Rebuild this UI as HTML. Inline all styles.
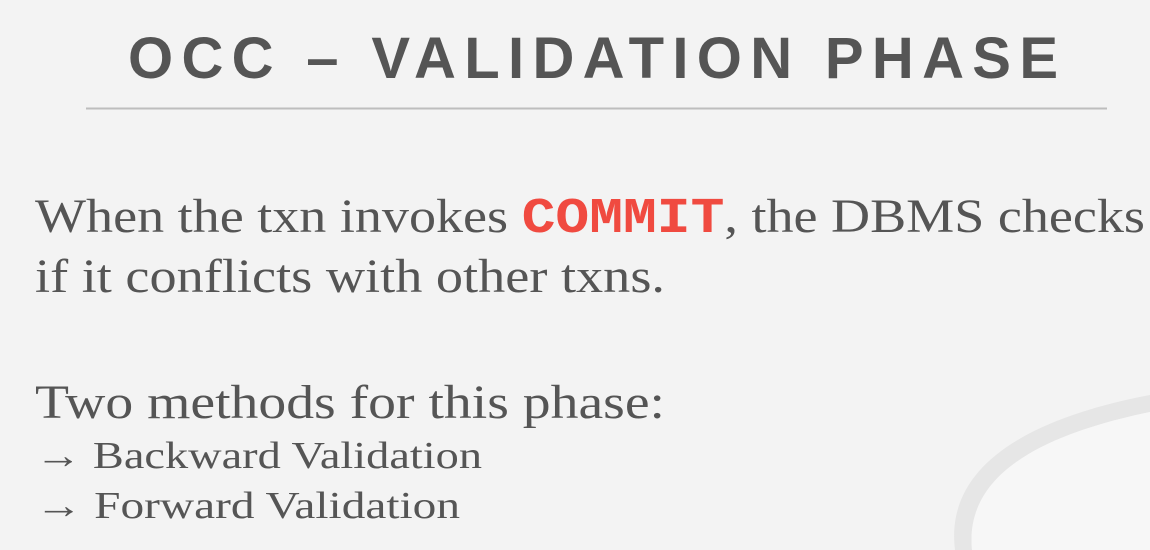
<!DOCTYPE html>
<html><head><meta charset="utf-8"><style>
html,body{margin:0;padding:0;background:#f3f3f3;}
svg{display:block}
</style></head><body>
<svg width="1150" height="550" xmlns="http://www.w3.org/2000/svg">
<rect width="1150" height="550" fill="#f3f3f3"/>
<path d="M955 550 C 945 470, 1020 420, 1150 395 L1150 412 C 1030 437, 965 480, 972 550 Z" fill="#e6e6e6"/>
<path d="M972 550 C 965 480, 1030 437, 1150 412 L1150 550 Z" fill="#f7f7f7"/>
<text x="128" y="78" font-family="Liberation Sans, sans-serif" font-weight="bold" font-size="58" fill="#555" textLength="930" lengthAdjust="spacing">OCC – VALIDATION PHASE</text>
<line x1="86" y1="108.5" x2="1107" y2="108.5" stroke="#bdbdbd" stroke-width="2"/>
<g font-family="Liberation Serif, serif" fill="#555">
<text x="35" y="232" font-size="48" textLength="1110" lengthAdjust="spacingAndGlyphs">When the txn invokes <tspan font-family="Liberation Mono, monospace" font-weight="bold" fill="#f04a40" font-size="50">COMMIT</tspan>, the DBMS checks</text>
<text x="35" y="292" font-size="48" textLength="630" lengthAdjust="spacingAndGlyphs">if it conflicts with other txns.</text>
<text x="35" y="418" font-size="48" textLength="630" lengthAdjust="spacingAndGlyphs">Two methods for this phase:</text>
<text x="35" y="468" font-size="38" textLength="447" lengthAdjust="spacingAndGlyphs">→ Backward Validation</text>
<text x="35" y="518" font-size="38" textLength="425" lengthAdjust="spacingAndGlyphs">→ Forward Validation</text>
</g>
</svg>
</body></html>
